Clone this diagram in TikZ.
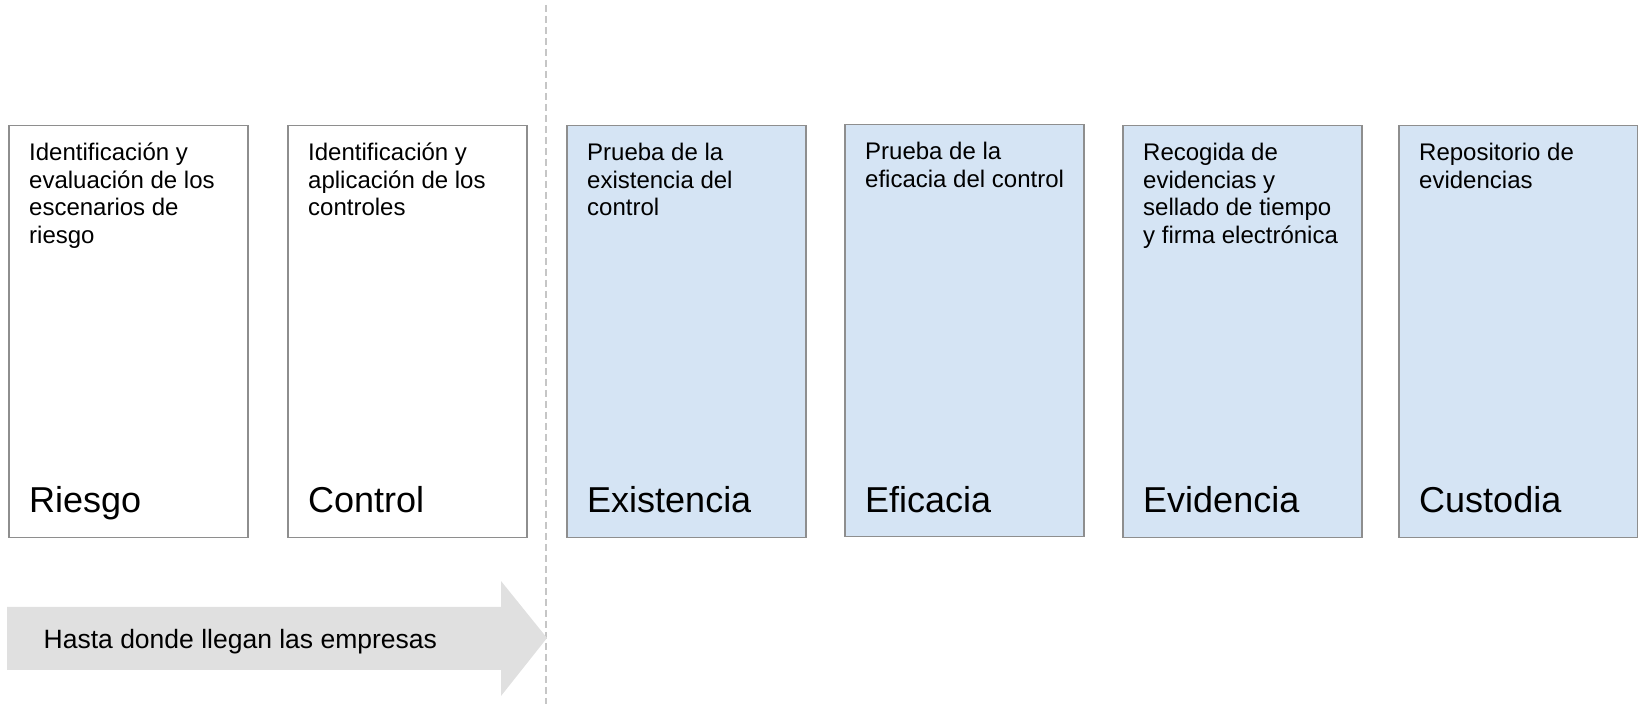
\documentclass[tikz,border=0pt]{standalone}
\usepackage{fontspec}
\setmainfont{Liberation Sans}
\definecolor{boxline}{HTML}{8E8E8E}
\definecolor{boxblue}{HTML}{D5E4F4}
\definecolor{arrowgray}{HTML}{E0E0E0}
\definecolor{dashgray}{HTML}{C6C6C6}
\newcommand{\smalltxt}[1]{\parbox[t]{225pt}{\fontsize{24}{27.4}\selectfont\raggedright #1}}
\tikzset{
  x=1pt, y=1pt,
  stagebox/.style={draw=boxline, line width=1.5pt, rectangle, inner sep=0pt,
     minimum width=239pt, minimum height=412pt, anchor=north west},
  whitebox/.style={stagebox, fill=white},
  bluebox/.style={stagebox, fill=boxblue},
  desc/.style={anchor=base west, inner sep=0pt, text=black},
  title/.style={anchor=base west, inner sep=0pt, text=black, font=\fontsize{36}{41}\selectfont},
}
\begin{document}
\begin{tikzpicture}
\useasboundingbox (0,0) rectangle (1638,704);
% dashed separator
\coordinate (dtop) at (546,699);
\coordinate (dbot) at (546,0);
\draw[dashgray, line width=2pt, dash pattern=on 7pt off 4pt] (dtop) -- (dbot);
% boxes
\node[whitebox] (b1) at (8,579) {};
\node[whitebox] (b2) at (287,579) {};
\node[bluebox] (b3) at (566,579) {};
\node[bluebox] (b4) at (844,580) {};
\node[bluebox] (b5) at (1122,579) {};
\node[bluebox] (b6) at (1398,579) {};
% descriptions
\node[desc] (d1) at ([shift={(21,-36)}]b1.north west) {\smalltxt{Identificación y\\evaluación de los\\escenarios de\\riesgo}};
\node[desc] (d2) at ([shift={(21,-36)}]b2.north west) {\smalltxt{Identificación y\\aplicación de los\\controles}};
\node[desc] (d3) at ([shift={(21,-36)}]b3.north west) {\smalltxt{Prueba de la\\existencia del\\control}};
\node[desc] (d4) at ([shift={(21,-36)}]b4.north west) {\smalltxt{Prueba de la\\eficacia del control}};
\node[desc] (d5) at ([shift={(21,-36)}]b5.north west) {\smalltxt{Recogida de\\evidencias y\\sellado de tiempo\\y firma electrónica}};
\node[desc] (d6) at ([shift={(21,-36)}]b6.north west) {\smalltxt{Repositorio de\\evidencias}};
% titles
\node[title] (t1) at ([shift={(21,26)}]b1.south west) {Riesgo};
\node[title] (t2) at ([shift={(21,26)}]b2.south west) {Control};
\node[title] (t3) at ([shift={(21,26)}]b3.south west) {Existencia};
\node[title] (t4) at ([shift={(21,25)}]b4.south west) {Eficacia};
\node[title] (t5) at ([shift={(21,26)}]b5.south west) {Evidencia};
\node[title] (t6) at ([shift={(21,26)}]b6.south west) {Custodia};
% big arrow
\fill[arrowgray] (7,97) -- (501,97) -- (501,123) -- (547,66) -- (501,8) -- (501,34) -- (7,34) -- cycle;
\node[anchor=base west, inner sep=0pt, font=\fontsize{26.5}{30}\selectfont] (arrowtxt) at (43.5,56) {Hasta donde llegan las empresas};
\end{tikzpicture}
\end{document}
